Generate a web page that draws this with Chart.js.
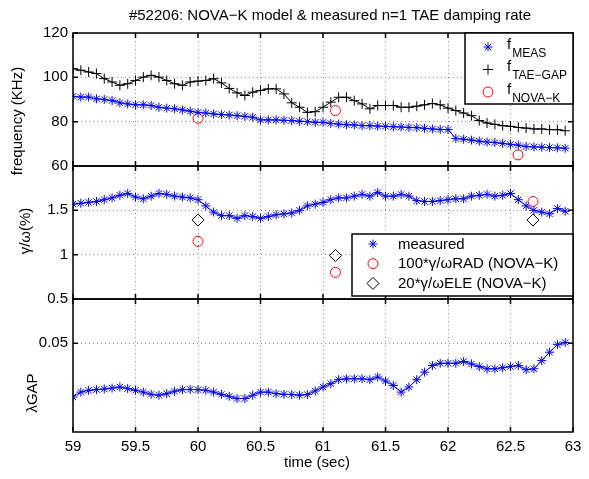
<!DOCTYPE html>
<html><head><meta charset="utf-8">
<script src="https://cdn.jsdelivr.net/npm/chart.js@4/dist/chart.umd.min.js"></script>
<style>html,body{margin:0;padding:0;background:#fff;}#wrap{position:relative;width:589px;height:479px;}</style>
</head><body><div id="wrap"><canvas id="c" width="589" height="479"></canvas></div>
<script>
const TITLE = '#52206: NOVA\u2212K model & measured n=1 TAE damping rate';
const X_LABEL = 'time (sec)';
const Y_LABELS = ['frequency (KHz)', '\u03b3/\u03c9(%)', '\u03bbGAP'];

const time = [59.0, 59.0625, 59.125, 59.1875, 59.25, 59.3125, 59.375, 59.4375, 59.5, 59.5625,
  59.625, 59.6875, 59.75, 59.8125, 59.875, 59.9375, 60.0, 60.0625, 60.125, 60.1875,
  60.25, 60.3125, 60.375, 60.4375, 60.5, 60.5625, 60.625, 60.6875, 60.75, 60.8125,
  60.875, 60.9375, 61.0, 61.0625, 61.125, 61.1875, 61.25, 61.3125, 61.375, 61.4375,
  61.5, 61.5625, 61.625, 61.6875, 61.75, 61.8125, 61.875, 61.9375, 62.0, 62.0625,
  62.125, 62.1875, 62.25, 62.3125, 62.375, 62.4375, 62.5, 62.5625, 62.625, 62.6875,
  62.75, 62.8125, 62.875, 62.9375];

const fMeas = [91.4, 91.1, 91.1, 90.3, 90.0, 89.5, 88.5, 88.0, 87.6, 87.6,
  87.3, 86.5, 86.1, 85.8, 85.3, 84.7, 84.2, 83.9, 83.5, 83.2,
  83.0, 82.7, 82.4, 82.0, 80.8, 80.8, 80.8, 80.6, 80.5, 80.2,
  80.0, 79.7, 79.7, 79.2, 78.9, 78.6, 78.5, 78.2, 78.2, 78.0,
  77.9, 77.7, 77.6, 77.4, 77.3, 77.0, 76.7, 76.5, 76.4, 72.4,
  72.1, 71.7, 71.2, 70.8, 70.6, 70.2, 69.8, 69.4, 68.8, 68.6,
  68.5, 68.3, 68.2, 68.0];

const fTaeGap = [103.9, 103.2, 102.4, 101.7, 99.4, 97.9, 96.4, 97.1, 98.6, 100.1,
  100.9, 100.1, 98.6, 97.1, 96.4, 97.9, 98.3, 98.6, 99.4, 97.5,
  95.0, 93.0, 91.8, 93.3, 94.1, 94.8, 94.8, 92.5, 88.5, 86.5,
  84.2, 84.5, 86.5, 88.8, 91.0, 91.0, 89.5, 88.0, 85.8, 87.3,
  87.3, 87.3, 86.5, 86.5, 87.0, 87.6, 88.2, 87.6, 86.1, 85.0,
  83.9, 82.7, 80.5, 79.4, 78.8, 78.2, 77.9, 77.4, 77.1, 76.7,
  76.7, 76.4, 76.4, 75.9];

const novaTime = [60.0, 61.1, 62.56];
const fNova = [81.5, 85.0, 65.0];

const gammaMeasured = [1.57, 1.58, 1.59, 1.60, 1.62, 1.64, 1.67, 1.69, 1.65, 1.63,
  1.66, 1.69, 1.68, 1.66, 1.65, 1.64, 1.62, 1.55, 1.48, 1.44,
  1.44, 1.41, 1.44, 1.43, 1.41, 1.43, 1.45, 1.46, 1.47, 1.50,
  1.55, 1.57, 1.59, 1.62, 1.64, 1.64, 1.66, 1.68, 1.66, 1.70,
  1.66, 1.66, 1.68, 1.66, 1.61, 1.60, 1.60, 1.61, 1.62, 1.63,
  1.63, 1.66, 1.67, 1.68, 1.66, 1.67, 1.69, 1.62, 1.55, 1.50,
  1.48, 1.46, 1.52, 1.49];

const radTime = [60.0, 61.1, 62.68];
const gammaRad = [1.15, 0.80, 1.60];
const eleTime = [60.0, 61.1, 62.68];
const gammaEle = [1.39, 0.99, 1.39];

const lambdaGap = [0.0258, 0.0280, 0.0288, 0.0291, 0.0294, 0.0298, 0.0303, 0.0296, 0.0288, 0.0280,
  0.0270, 0.0266, 0.0273, 0.0284, 0.0291, 0.0292, 0.0291, 0.0288, 0.0280, 0.0270,
  0.0261, 0.0251, 0.0251, 0.0266, 0.0280, 0.0280, 0.0273, 0.0270, 0.0269, 0.0266,
  0.0269, 0.0285, 0.0303, 0.0318, 0.0336, 0.0340, 0.0340, 0.0340, 0.0336, 0.0348,
  0.0330, 0.0310, 0.0280, 0.0303, 0.0336, 0.0370, 0.0400, 0.0410, 0.0410, 0.0410,
  0.0418, 0.0407, 0.0395, 0.0385, 0.0385, 0.0390, 0.0395, 0.0400, 0.0381, 0.0385,
  0.0422, 0.0460, 0.0494, 0.0504];

const xTicks = [59, 59.5, 60, 60.5, 61, 61.5, 62, 62.5, 63];
const xTickLabels = ['59', '59.5', '60', '60.5', '61', '61.5', '62', '62.5', '63'];
const freqTicks = [60, 80, 100, 120];
const freqTickLabels = ['60', '80', '100', '120'];
const gammaTicks = [0.5, 1, 1.5, 2];
const gammaTickLabels = ['0.5', '1', '1.5', ''];
const lambdaTicks = [0.05];
const lambdaTickLabels = ['0.05'];

const legendTop = [
  {label: 'f', sub: 'MEAS', style: 'star', color: '#0000ff', r: 4.5},
  {label: 'f', sub: 'TAE\u2212GAP', style: 'cross', color: '#000000', r: 5},
  {label: 'f', sub: 'NOVA\u2212K', style: 'circle', color: '#ff0000', r: 5}
];
const legendMid = [
  {label: 'measured', style: 'star', color: '#0000ff', r: 4.5},
  {label: '100*\u03b3/\u03c9RAD (NOVA\u2212K)', style: 'circle', color: '#ff0000', r: 5},
  {label: '20*\u03b3/\u03c9ELE (NOVA\u2212K)', style: 'rectRot', color: '#000000', r: 6}
];

const FONT = "'Liberation Sans', Arial, Helvetica, sans-serif";
const pts = (xs, ys) => xs.map((x, i) => ({x: x, y: ys[i]}));

function tickSetter(values) {
  return function (scale) { scale.ticks = values.map(v => ({value: v})); };
}
function labelFrom(values, labels) {
  return function (v) { const i = values.indexOf(v); return i >= 0 ? labels[i] : ''; };
}
function yScale(min, max, ticks, labels) {
  return {
    type: 'linear', position: 'left', stack: 'panels', stackWeight: 1,
    min: min, max: max,
    afterBuildTicks: tickSetter(ticks),
    afterFit: s => { s.width = 73; },
    ticks: {font: {family: FONT, size: 15}, color: '#000', padding: 5, callback: labelFrom(ticks, labels)},
    grid: {color: '#8c8c8c', lineWidth: 1, drawTicks: false},
    border: {display: false, dash: [1, 3]}
  };
}

function drawMarker(ctx, style, x, y, r, color) {
  ctx.save();
  ctx.strokeStyle = color;
  ctx.fillStyle = 'rgba(0,0,0,0)';
  ctx.lineWidth = 1;
  Chart.helpers.drawPoint(ctx, {pointStyle: style, rotation: 0, radius: r, borderWidth: 1}, x, y);
  ctx.restore();
}

const decor = {
  id: 'decor',
  afterDatasetsDraw(chart) {
    const ctx = chart.ctx;
    const xs = chart.scales.x;
    const L = chart.chartArea.left, R = chart.chartArea.right;
    const panels = [
      {s: chart.scales.yF, t: freqTicks},
      {s: chart.scales.yG, t: gammaTicks},
      {s: chart.scales.yL, t: lambdaTicks}
    ];
    ctx.save();
    ctx.strokeStyle = '#000';
    ctx.lineWidth = 1.5;
    panels.forEach(p => {
      const top = p.s.top, bot = p.s.bottom;
      ctx.strokeRect(L, top, R - L, bot - top);
      ctx.beginPath();
      xTicks.forEach(v => {
        const px = xs.getPixelForValue(v);
        ctx.moveTo(px, top); ctx.lineTo(px, top + 5);
        ctx.moveTo(px, bot); ctx.lineTo(px, bot - 5);
      });
      p.t.forEach(v => {
        const py = p.s.getPixelForValue(v);
        ctx.moveTo(L, py); ctx.lineTo(L + 5, py);
        ctx.moveTo(R, py); ctx.lineTo(R - 5, py);
      });
      ctx.stroke();
    });
    ctx.restore();

    // legend top
    ctx.save();
    ctx.fillStyle = '#fff'; ctx.strokeStyle = '#000'; ctx.lineWidth = 1.5;
    ctx.fillRect(465, 33, 108, 71); ctx.strokeRect(465, 33, 108, 71);
    ctx.textAlign = 'left'; ctx.textBaseline = 'alphabetic';
    legendTop.forEach((e, i) => {
      const my = 47 + i * 22.5;
      drawMarker(ctx, e.style, 488, my, e.r, e.color);
      ctx.fillStyle = '#000';
      ctx.font = '15px ' + FONT;
      ctx.fillText(e.label, 507, my + 1.5);
      const w = ctx.measureText(e.label).width;
      ctx.font = '12px ' + FONT;
      ctx.fillText(e.sub, 507 + w + 1, my + 9.5);
    });
    ctx.restore();

    // legend middle
    ctx.save();
    ctx.fillStyle = '#fff'; ctx.strokeStyle = '#000'; ctx.lineWidth = 1.5;
    ctx.fillRect(352, 234, 221, 62); ctx.strokeRect(352, 234, 221, 62);
    ctx.textAlign = 'left'; ctx.textBaseline = 'middle';
    legendMid.forEach((e, i) => {
      const my = 244 + i * 19.7;
      drawMarker(ctx, e.style, 373, my, e.r, e.color);
      ctx.fillStyle = '#000';
      ctx.font = '15px ' + FONT;
      ctx.fillText(e.label, 398, my + 0.5);
    });
    ctx.restore();
  },
  afterDraw(chart) {
    const ctx = chart.ctx;
    ctx.save();
    ctx.fillStyle = '#000';
    ctx.font = '15px ' + FONT;
    ctx.textAlign = 'center'; ctx.textBaseline = 'alphabetic';
    ctx.fillText(TITLE, 330, 20);
    ctx.fillText(X_LABEL, 317, 467);
    const yl = [[22, 121], [30, 231], [37, 393]];
    Y_LABELS.forEach((t, i) => {
      ctx.save();
      ctx.translate(yl[i][0], yl[i][1]);
      ctx.rotate(-Math.PI / 2);
      ctx.fillText(t, 0, 0);
      ctx.restore();
    });
    ctx.restore();
  }
};

new Chart(document.getElementById('c'), {
  type: 'scatter',
  data: {
    datasets: [
      {label: 'fMEAS', data: pts(time, fMeas), yAxisID: 'yF', showLine: true, borderColor: '#0000ff', borderWidth: 1,
        pointStyle: 'star', pointRadius: 4.5, pointBorderColor: '#0000ff', pointBorderWidth: 1, pointBackgroundColor: '#0000ff'},
      {label: 'fTAE-GAP', data: pts(time, fTaeGap), yAxisID: 'yF', showLine: true, borderColor: '#000', borderWidth: 1,
        pointStyle: 'cross', pointRadius: 5, pointBorderColor: '#000', pointBorderWidth: 1},
      {label: 'fNOVA-K', data: pts(novaTime, fNova), yAxisID: 'yF', showLine: false,
        pointStyle: 'circle', pointRadius: 5, pointBorderColor: '#ff0000', pointBackgroundColor: 'rgba(0,0,0,0)', pointBorderWidth: 1},
      {label: 'measured', data: pts(time, gammaMeasured), yAxisID: 'yG', showLine: true, borderColor: '#0000ff', borderWidth: 1,
        pointStyle: 'star', pointRadius: 4.5, pointBorderColor: '#0000ff', pointBorderWidth: 1},
      {label: '100*g/wRAD', data: pts(radTime, gammaRad), yAxisID: 'yG', showLine: false,
        pointStyle: 'circle', pointRadius: 5, pointBorderColor: '#ff0000', pointBackgroundColor: 'rgba(0,0,0,0)', pointBorderWidth: 1},
      {label: '20*g/wELE', data: pts(eleTime, gammaEle), yAxisID: 'yG', showLine: false,
        pointStyle: 'rectRot', pointRadius: 6, pointBorderColor: '#000', pointBackgroundColor: 'rgba(0,0,0,0)', pointBorderWidth: 1},
      {label: 'lambdaGAP', data: pts(time, lambdaGap), yAxisID: 'yL', showLine: true, borderColor: '#0000ff', borderWidth: 1,
        pointStyle: 'star', pointRadius: 4.5, pointBorderColor: '#0000ff', pointBorderWidth: 1}
    ]
  },
  options: {
    responsive: false, animation: false, devicePixelRatio: 1,
    layout: {padding: {left: 0, right: 16, top: 33, bottom: 0}},
    plugins: {legend: {display: false}, title: {display: false}, tooltip: {enabled: false}},
    scales: {
      x: {
        type: 'linear', position: 'bottom', min: 59, max: 63,
        afterBuildTicks: tickSetter(xTicks),
        afterFit: s => { s.height = 47; },
        ticks: {font: {family: FONT, size: 15}, color: '#000', padding: 6, maxRotation: 0, autoSkip: false,
          callback: labelFrom(xTicks, xTickLabels)},
        grid: {color: '#8c8c8c', lineWidth: 1, drawTicks: false},
        border: {display: false, dash: [1, 3]}
      },
      yL: yScale(0.01, 0.07, lambdaTicks, lambdaTickLabels),
      yG: yScale(0.5, 2.0, gammaTicks, gammaTickLabels),
      yF: yScale(60, 120, freqTicks, freqTickLabels)
    }
  },
  plugins: [decor]
});
</script></body></html>
